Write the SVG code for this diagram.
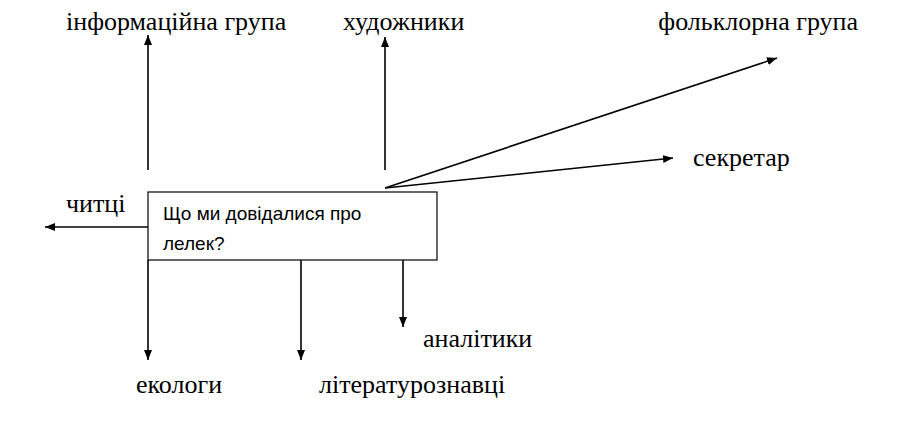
<svg xmlns="http://www.w3.org/2000/svg" width="909" height="436" viewBox="0 0 909 436">
<defs>
<marker id="ah" viewBox="0 0 10 10" refX="10" refY="5" markerWidth="10" markerHeight="10" markerUnits="userSpaceOnUse" orient="auto">
<path d="M0,1 L10,5 L0,9 Z" fill="#000"/>
</marker>
</defs>
<style>
.lbl{font-family:"Liberation Serif","Times New Roman",serif;font-size:26px;fill:#000}
.box{fill:#fff;stroke:#000;stroke-width:1.2}
.bt{font-family:"Liberation Sans",Arial,sans-serif;font-size:19px;fill:#000}
.c{fill:none;stroke:#000;stroke-width:1.6;marker-end:url(#ah)}
</style>
<rect width="909" height="436" fill="#fff"/>
<g id="connectors">
<line class="c" x1="148" y1="170" x2="148" y2="35"/>
<line class="c" x1="385" y1="170" x2="385" y2="37"/>
<line class="c" x1="385" y1="188" x2="777" y2="58"/>
<line class="c" x1="385" y1="188" x2="673" y2="158"/>
<line class="c" x1="148" y1="227" x2="45" y2="227"/>
<line class="c" x1="148" y1="260" x2="148" y2="360"/>
<line class="c" x1="301" y1="260" x2="301" y2="360"/>
<line class="c" x1="403" y1="260" x2="403" y2="327"/>
</g>
<g id="center">
<rect class="box" x="148" y="192" width="289" height="68"/>
<text class="bt" x="163" y="220">Що ми довідалися про</text>
<text class="bt" x="163" y="250">лелек?</text>
</g>
<g id="info"><text class="lbl" x="66" y="30">інформаційна група</text></g>
<g id="artists"><text class="lbl" x="343" y="30">художники</text></g>
<g id="folk"><text class="lbl" x="858" y="30" text-anchor="end">фольклорна група</text></g>
<g id="secretary"><text class="lbl" x="693" y="166">секретар</text></g>
<g id="readers"><text class="lbl" x="66" y="212">читці</text></g>
<g id="ecologists"><text class="lbl" x="136" y="393">екологи</text></g>
<g id="literary"><text class="lbl" x="319" y="393">літературознавці</text></g>
<g id="analysts"><text class="lbl" x="423" y="347">аналітики</text></g>
</svg>
